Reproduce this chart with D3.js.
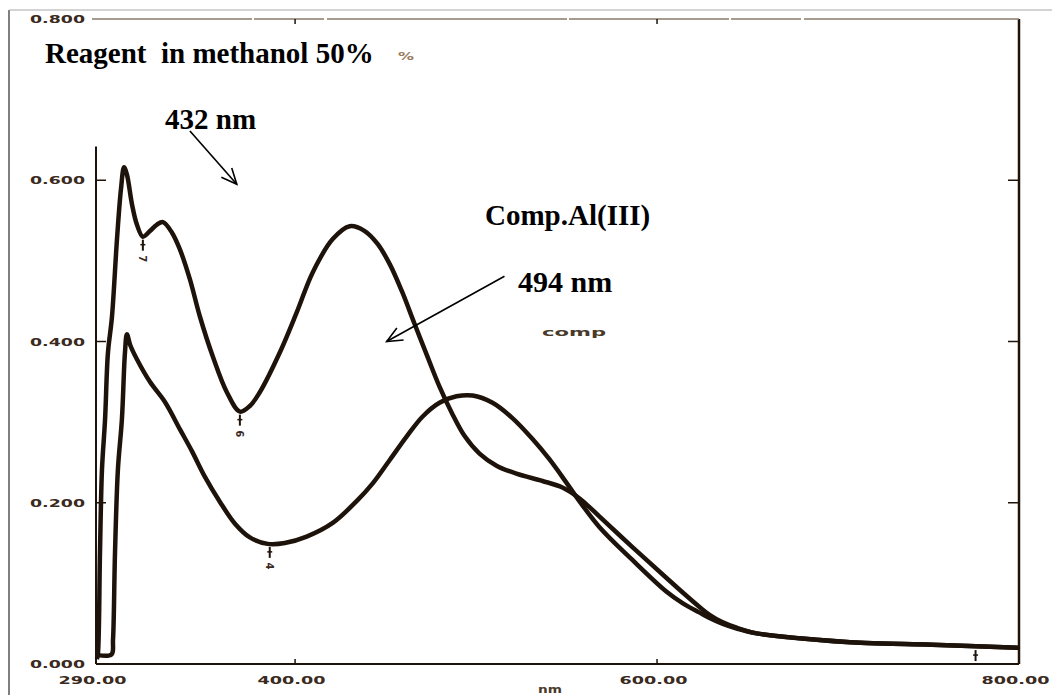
<!DOCTYPE html>
<html>
<head>
<meta charset="utf-8">
<script src="https://cdn.jsdelivr.net/npm/d3@7"></script>
<style>
  body { margin: 0; background: #fff; }
  svg { display: block; background: #fff; }
</style>
</head>
<body>
<svg width="1052" height="695"></svg>
<script>
//wavelengths (nm) and absorbance
const reagentNm = [290.5, 291.1, 292.2, 293.3, 295.0, 296.6, 298.8, 301.6, 303.8, 305.5, 307.1, 309.9, 312.6, 315.9, 319.8, 323.7, 327.0, 332.0, 336.4, 341.9, 347.4, 354.6, 362.3, 369.5, 375.0, 380.5, 391.5, 400.9, 409.8, 420.8, 430.2, 438.5, 445.6, 452.3, 458.9, 466.0, 473.2, 479.8, 486.5, 493.6, 501.9, 511.3, 522.3, 536.7, 547.7, 554.3, 561.0, 568.1, 586.4, 605.1, 614.5, 623.3, 629.0, 636.0, 644.0, 655.0, 678.5, 715.5, 751.9, 800]
const reagentAbs = [0.006, 0.014, 0.138, 0.241, 0.303, 0.386, 0.430, 0.527, 0.589, 0.616, 0.607, 0.570, 0.545, 0.530, 0.537, 0.545, 0.548, 0.535, 0.514, 0.477, 0.431, 0.381, 0.337, 0.313, 0.320, 0.337, 0.386, 0.436, 0.486, 0.527, 0.543, 0.537, 0.521, 0.496, 0.463, 0.422, 0.381, 0.344, 0.312, 0.283, 0.261, 0.246, 0.236, 0.227, 0.219, 0.210, 0.198, 0.183, 0.145, 0.107, 0.088, 0.071, 0.061, 0.052, 0.045, 0.038, 0.032, 0.026, 0.024, 0.020]

const complexNm = [291.1, 298.6, 299.4, 300.5, 302.1, 304.3, 306.0, 307.1, 309.0, 312.6, 319.8, 328.1, 336.4, 343.0, 350.2, 358.5, 366.8, 375.0, 384.9, 394.3, 406.4, 420.8, 434.0, 442.9, 452.3, 461.6, 470.5, 479.8, 489.2, 498.1, 509.1, 520.1, 531.2, 540.5, 549.9, 555.5, 568.1, 586.4, 605.1, 614.5, 623.3, 629.0, 636.0, 644.0, 655.0, 678.5, 715.5, 751.9, 800]
const complexAbs = [0.011, 0.012, 0.030, 0.138, 0.241, 0.303, 0.386, 0.409, 0.395, 0.378, 0.350, 0.325, 0.291, 0.264, 0.232, 0.201, 0.174, 0.157, 0.149, 0.150, 0.158, 0.175, 0.202, 0.224, 0.253, 0.282, 0.307, 0.324, 0.332, 0.333, 0.324, 0.305, 0.279, 0.254, 0.225, 0.207, 0.170, 0.129, 0.090, 0.075, 0.064, 0.057, 0.050, 0.044, 0.038, 0.032, 0.026, 0.024, 0.020]

//axis ticks
const xTicks = [290, 400, 600, 800]
const xTickLabels = ['290.00', '400.00', '600.00', '800.00']
const yTicks = [0, 0.2, 0.4, 0.6, 0.8]
const yTickLabels = ['0.000', '0.200', '0.400', '0.600', '0.800']

//small instrument peak pick markers under the minima
const markNm = [315.9, 369.5, 386.0, 776]
const markAbs = [0.530, 0.313, 0.149, 0.021]
const markLabels = ['7', '6', '4', '']

//arrows: [from nm, from abs, to nm, to abs]
const arrow432 = [341.9, 0.661, 367.8, 0.595]
const arrow494 = [515.7, 0.481, 450.6, 0.400]

const svg = d3.select('svg')
const ink = '#1e130a'
const labelInk = '#3b2a1e'

const x = d3.scaleLinear().domain([290, 800]).range([96, 1019])
const y = d3.scaleLinear().domain([0, 0.8]).range([664, 19])

//outer frame of the pasted figure
svg.append('line')
    .attr('x1', 9).attr('x2', 9).attr('y1', 10).attr('y2', 695)
    .attr('stroke', '#555').attr('stroke-width', 1.5)
svg.append('line')
    .attr('x1', 9).attr('x2', 1052).attr('y1', 10).attr('y2', 10)
    .attr('stroke', '#a8a8a8').attr('stroke-width', 1)

//bottom tick labels
const xAxis = svg.append('g')
    .attr('transform', `translate(0, ${y(0)})`)
    .call(d3.axisBottom(x)
        .tickValues(xTicks)
        .tickSize(0)
        .tickPadding(12)
        .tickFormat((d, i) => xTickLabels[i]))
xAxis.select('.domain').remove()
xAxis.selectAll('text')
    .attr('dx', -4)
    .attr('textLength', 68)
    .attr('lengthAdjust', 'spacingAndGlyphs')
    .style('font-family', 'DejaVu Sans')
    .style('font-weight', 'bold')
    .style('font-size', '11px')
    .attr('fill', labelInk)

//left tick labels
const yAxis = svg.append('g')
    .attr('transform', `translate(${x(290)}, 0)`)
    .call(d3.axisLeft(y)
        .tickValues(yTicks)
        .tickSize(0)
        .tickPadding(11)
        .tickFormat((d, i) => yTickLabels[i]))
yAxis.select('.domain').remove()
yAxis.selectAll('text')
    .attr('textLength', 55)
    .attr('lengthAdjust', 'spacingAndGlyphs')
    .style('font-family', 'DejaVu Sans')
    .style('font-weight', 'bold')
    .style('font-size', '11px')
    .attr('fill', labelInk)

//plot frame
const frame = svg.append('g').attr('stroke', ink).attr('fill', 'none')
frame.append('line')
    .attr('x1', x(290)).attr('x2', x(800)).attr('y1', y(0)).attr('y2', y(0))
    .attr('stroke-width', 2)
frame.append('line')
    .attr('x1', x(800)).attr('x2', x(800)).attr('y1', y(0.8)).attr('y2', y(0))
    .attr('stroke-width', 2.5)
frame.append('line')
    .attr('x1', x(290)).attr('x2', x(290)).attr('y1', y(0.642)).attr('y2', y(0))
    .attr('stroke-width', 2)
frame.append('line')
    .attr('x1', x(290) - 4).attr('x2', x(800)).attr('y1', y(0.8)).attr('y2', y(0.8))
    .attr('stroke', '#8a7a6a')
    .attr('stroke-width', 1.5)
    .attr('stroke-dasharray', '160,2,70,3,240,2')

//inward ticks on the left and right sides
const sideTicks = yTicks.filter(d => d > 0 && d < 0.8)
frame.selectAll('.lt').data(sideTicks).enter().append('line')
    .attr('x1', x(290)).attr('x2', x(290) + 10)
    .attr('y1', d => y(d)).attr('y2', d => y(d))
    .attr('stroke-width', 1.5)
frame.selectAll('.rt').data(sideTicks).enter().append('line')
    .attr('x1', x(800) - 11).attr('x2', x(800))
    .attr('y1', d => y(d)).attr('y2', d => y(d))
    .attr('stroke-width', 1.5)
//small ticks on the top and bottom
const midTicks = xTicks.filter(d => d > 290 && d < 800)
frame.selectAll('.bt').data(midTicks).enter().append('line')
    .attr('x1', d => x(d)).attr('x2', d => x(d))
    .attr('y1', y(0)).attr('y2', y(0) - 5)
    .attr('stroke-width', 1.5)
frame.selectAll('.tt').data(midTicks).enter().append('line')
    .attr('x1', d => x(d)).attr('x2', d => x(d))
    .attr('y1', y(0.8)).attr('y2', y(0.8) + 5)
    .attr('stroke-width', 1.5)

//the two spectra
const line = d3.line()
    .x(d => x(d[0]))
    .y(d => y(d[1]))
    .curve(d3.curveCatmullRom.alpha(0.5))

const series = [
    d3.zip(reagentNm, reagentAbs),
    d3.zip(complexNm, complexAbs)
]
svg.selectAll('.spectrum')
    .data(series)
    .enter()
    .append('path')
    .attr('class', 'spectrum')
    .attr('d', line)
    .attr('fill', 'none')
    .attr('stroke', ink)
    .attr('stroke-width', 4.5)
    .attr('stroke-linejoin', 'round')

//peak pick markers
const marks = d3.zip(markNm, markAbs, markLabels)
const mg = svg.selectAll('.mark')
    .data(marks)
    .enter()
    .append('g')
    .attr('class', 'mark')
    .attr('transform', d => `translate(${x(d[0])}, ${y(d[1])})`)
mg.append('line')
    .attr('y1', 3).attr('y2', 14)
    .attr('stroke', ink).attr('stroke-width', 2)
mg.append('line')
    .attr('x1', -2.5).attr('x2', 2.5).attr('y1', 8).attr('y2', 8)
    .attr('stroke', ink).attr('stroke-width', 1.5)
mg.append('text')
    .attr('transform', 'translate(0, 22) rotate(90)')
    .attr('text-anchor', 'middle')
    .attr('dy', '0.35em')
    .style('font-family', 'DejaVu Sans')
    .style('font-weight', 'bold')
    .style('font-size', '10px')
    .attr('fill', labelInk)
    .text(d => d[2])

//annotation arrows with open heads
function drawArrow(a){
    const x1 = x(a[0]), y1 = y(a[1]), x2 = x(a[2]), y2 = y(a[3])
    const ang = Math.atan2(y2 - y1, x2 - x1)
    const len = 17
    const g = svg.append('g').attr('stroke', '#000').attr('stroke-width', 1.6).attr('fill', 'none')
    g.append('line').attr('x1', x1).attr('y1', y1).attr('x2', x2).attr('y2', y2)
    g.append('path')
        .attr('d', `M${x2 - len * Math.cos(ang - 0.42)},${y2 - len * Math.sin(ang - 0.42)}L${x2},${y2}L${x2 - len * Math.cos(ang + 0.42)},${y2 - len * Math.sin(ang + 0.42)}`)
}
drawArrow(arrow432)
drawArrow(arrow494)

//bold serif labels
const serifLabels = [
    { text: 'Reagent  in methanol 50%', x: 45, y: 63, size: 29 },
    { text: '432 nm', x: 165, y: 129, size: 29 },
    { text: 'Comp.Al(III)', x: 485, y: 225, size: 29 },
    { text: '494 nm', x: 518, y: 292, size: 30 }
]
svg.selectAll('.serif')
    .data(serifLabels)
    .enter()
    .append('text')
    .attr('x', d => d.x)
    .attr('y', d => d.y)
    .style('font-family', '"Liberation Serif", "Times New Roman", serif')
    .style('font-weight', 'bold')
    .style('font-size', d => d.size + 'px')
    .style('white-space', 'pre')
    .attr('fill', '#000')
    .text(d => d.text)

//leftover instrument texts
const smallLabels = [
    { text: '%', x: 398, y: 60, w: 16, color: '#9a7a5a' },
    { text: 'comp', x: 542, y: 336, w: 64, color: '#4a3a2a' },
    { text: 'nm', x: 538, y: 693, w: 24, color: '#4a3a2a' }
]
svg.selectAll('.small')
    .data(smallLabels)
    .enter()
    .append('text')
    .attr('x', d => d.x)
    .attr('y', d => d.y)
    .attr('textLength', d => d.w)
    .attr('lengthAdjust', 'spacingAndGlyphs')
    .style('font-family', 'DejaVu Sans')
    .style('font-weight', 'bold')
    .style('font-size', '10px')
    .attr('fill', d => d.color)
    .text(d => d.text)
</script>
</body>
</html>
